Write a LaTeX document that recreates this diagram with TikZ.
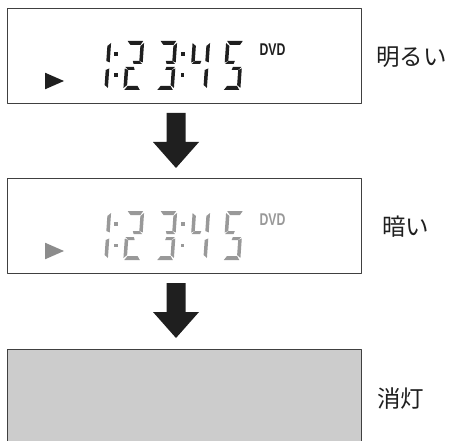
\documentclass[tikz,border=0pt]{standalone}
\usepackage{fontspec}
\setmainfont{Liberation Sans}
\newfontfamily\jpfont{Noto Sans CJK JP}
\usetikzlibrary{positioning}
\definecolor{qqqqqq}{rgb}{0.12,0.12,0.12}
\definecolor{frameqq}{rgb}{0.25,0.25,0.25}
\definecolor{greyqq}{rgb}{0.6,0.6,0.6}
\definecolor{triqq}{rgb}{0.55,0.55,0.55}
\definecolor{offqq}{rgb}{0.8,0.8,0.8}
% segments of one digit, origin at left edge of the middle line
\newcommand{\sega}{\fill (1,-24.5) -- (16.5,-24.5) -- (14,-20.5) -- (4,-20.5) -- cycle;}
\newcommand{\segb}{\fill (17.5,-22.5) -- (17.5,-3) -- (14,-4.5) -- (14,-19.5) -- cycle;}
\newcommand{\segc}{\fill (17.5,3) -- (17.5,22.5) -- (14,19.5) -- (14,4.5) -- cycle;}
\newcommand{\segd}{\fill (4,20.5) -- (14,20.5) -- (16.5,24.5) -- (1,24.5) -- cycle;}
\newcommand{\sege}{\fill (0,3) -- (3.5,4.5) -- (3.5,19.5) -- (0,22.5) -- cycle;}
\newcommand{\segf}{\fill (0,-22.5) -- (3.5,-19.5) -- (3.5,-4.5) -- (0,-3) -- cycle;}
\newcommand{\segh}{\fill (3.5,-4.5) -- (10,-4.5) -- (9,-1.5) -- (0.5,-1.5) -- cycle;}
\newcommand{\segi}{\fill (14,-4.5) -- (7.5,-4.5) -- (8.5,-1.5) -- (17,-1.5) -- cycle;}
\newcommand{\segj}{\fill (3.5,4.5) -- (10,4.5) -- (9,1.5) -- (0.5,1.5) -- cycle;}
\newcommand{\segk}{\fill (14,4.5) -- (7.5,4.5) -- (8.5,1.5) -- (17,1.5) -- cycle;}
\newcommand{\lcddigit}[3]{%
  \begin{scope}[shift={(#1,#2)},xslant=0.07]
    \foreach \s in {#3} {\csname seg\s\endcsname}
  \end{scope}}
% one display line: middle y, colour, triangle colour, name
\newcommand{\lcdline}[4]{%
  \begin{scope}[fill=#2]
    \lcddigit{92}{#1}{b,c}
    \lcddigit{125}{#1}{a,b,i,j,e,d}
    \lcddigit{158}{#1}{a,b,i,k,c,d}
    \lcddigit{191}{#1}{f,h,b,c}
    \lcddigit{224.5}{#1}{a,f,h,k,c,d}
    \foreach \cx in {116,182.7} {
      \fill (\cx-1.8,#1-13.3) rectangle +(3.6,3.6);
      \fill (\cx-2.1,#1+8) rectangle +(3.6,3.6);
    }
    \node[dvdtext,text=#2] (dvd#4) at (272.5,#1-16.3) {DVD};
    \fill[#3] (45,#1+7.2) -- (64,#1+15.5) -- (45,#1+23.8) -- cycle;
  \end{scope}}
\tikzset{
  lcdbox/.style={draw=frameqq,line width=1.4pt,minimum width=354pt,minimum height=95pt,inner sep=0pt},
  statetext/.style={font=\jpfont\fontsize{23.5}{24}\selectfont,text=qqqqqq,inner sep=0pt,anchor=west},
  dvdtext/.style={font=\bfseries\fontsize{17}{17}\selectfont,xscale=0.72,inner sep=0pt},
  downarrow/.style={fill=qqqqqq}
}
\begin{document}
\begin{tikzpicture}[line cap=round,line join=round,x=1pt,y=-1pt]
\clip (0,0) rectangle (450,441);
\node[lcdbox] (bright) at (184.5,56) {};
\node[lcdbox] (dark) at (184.5,226) {};
\node[lcdbox,fill=offqq,minimum height=96pt] (off) at (184.5,397.5) {};
\node[statetext,right=14pt of bright.east,yshift=-1pt] (brightlabel) {明るい};
\node[statetext,right=20pt of dark.east,yshift=-1pt] (darklabel) {暗い};
\node[statetext,right=15pt of bright.east|-off.center,yshift=-1pt] (offlabel) {消灯};
\lcdline{65.5}{qqqqqq}{qqqqqq}{a}
\lcdline{235.5}{greyqq}{triqq}{b}
\foreach \t in {113,283} {
  \fill[downarrow] (166.5,\t) -- (185.5,\t) -- (185.5,\t+29) -- (199,\t+29) -- (176,\t+55) -- (153,\t+29) -- (166.5,\t+29) -- cycle;
}
\end{tikzpicture}
\end{document}
